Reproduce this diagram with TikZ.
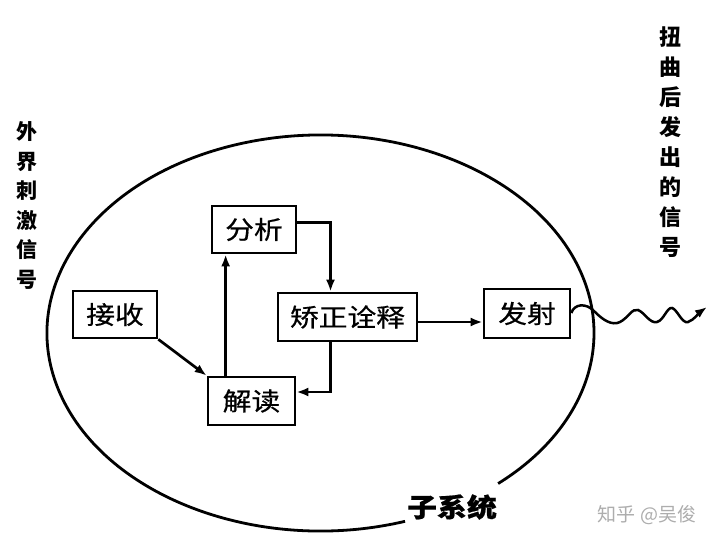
\documentclass[tikz,border=0pt]{standalone}
\usepackage{fontspec}
\newfontfamily\cjk{Noto Sans CJK SC}
\newfontfamily\cjkwide[FakeStretch=1.15,FakeBold=0.6]{Noto Sans CJK SC}
\usetikzlibrary{arrows.meta}
\begin{document}
\begin{tikzpicture}[x=1pt,y=-1pt,
  lw/.style={line width=2.7pt},
  boxnode/.style={draw,lw,inner sep=0pt,minimum height=48pt,font=\cjkwide\fontsize{25}{25}\selectfont},
  arr/.style={lw,-{Latex[length=12pt,width=9pt]}},
  sidelabel/.style={align=center,inner sep=0pt,font=\cjk\bfseries\fontsize{21}{29.5}\selectfont},
]
\useasboundingbox (0,0) rectangle (720,544);
\fill[white] (0,0) rectangle (720,544);

% system boundary (ellipse with a gap for its label)
\draw[line width=2.8pt] ({320.5+273.5*cos(72)},{333+198*sin(72)})
  arc[start angle=72,end angle=409.5,x radius=273.5,y radius=198];
\node[inner sep=0pt,font=\cjkwide\bfseries\fontsize{26}{26}\selectfont] (sub) at (452,507) {子系统};

% boxes
\node[boxnode,minimum width=84pt,minimum height=47pt] (jieshou) at (115,314.5) {接收};
\node[boxnode,minimum width=84pt,minimum height=47pt] (fenxi) at (254,229.5) {分析};
\node[boxnode,minimum width=139pt] (jiaozheng) at (347.5,317) {矫正诠释};
\node[boxnode,minimum width=86pt,minimum height=49pt] (fashe) at (527,313.5) {发射};
\node[boxnode,minimum width=87pt] (jiedu) at (251.5,401) {解读};

% connectors
\draw[arr] (jieshou.south east) -- (jiedu.north west);
\draw[arr] ([xshift=19pt]jiedu.north west) coordinate (up) -- (up |- fenxi.south);
\draw[arr] ([yshift=7pt]fenxi.east) -| ([xshift=-17pt]jiaozheng.north);
\draw[arr] ([xshift=-17pt]jiaozheng.south) |- ([yshift=9pt]jiedu.east);
\draw[arr] ([yshift=-5pt]jiaozheng.east) coordinate (out) -- (out -| fashe.west);

% distorted outgoing signal
\coordinate (sigend) at (707,307);
\draw[line width=2.5pt,-{Latex[length=12pt,width=9pt]}] ([yshift=0.5pt]fashe.east)
  .. controls (574,304) and (586,302) .. (595,312)
  .. controls (603,320) and (612,326) .. (620,322)
  .. controls (628,318) and (632,308) .. (638,310)
  .. controls (644,312) and (650,324) .. (657,322)
  .. controls (664,320) and (667,307) .. (672,308)
  .. controls (677,309) and (682,324) .. (688,322)
  .. controls (694,320) and (700,312) .. (sigend);

% side labels
\node[sidelabel] (inlabel) at (27,205.5) {外\\界\\刺\\激\\信\\号};
\node[sidelabel,font=\cjk\bfseries\fontsize{22}{30}\selectfont] (outlabel) at (670,142.5) {扭\\曲\\后\\发\\出\\的\\信\\号};

% watermark
\node[inner sep=0pt,text=black!32,font=\cjk\fontsize{19}{19}\selectfont] (wm) at (647,515) {知乎 @吴俊};
\end{tikzpicture}
\end{document}
